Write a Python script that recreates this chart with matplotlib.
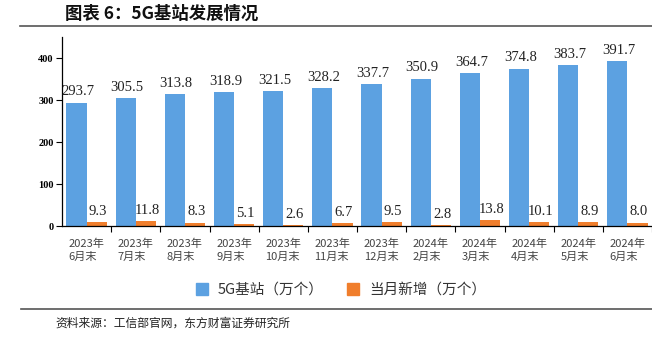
import numpy as np
import matplotlib
matplotlib.use("Agg")
import matplotlib.pyplot as plt
from matplotlib.patches import Patch
from matplotlib.lines import Line2D

plt.rcParams['font.family'] = ['Noto Sans CJK SC', 'DejaVu Sans']

months = ['2023年\n6月末', '2023年\n7月末', '2023年\n8月末', '2023年\n9月末',
          '2023年\n10月末', '2023年\n11月末', '2023年\n12月末', '2024年\n2月末',
          '2024年\n3月末', '2024年\n4月末', '2024年\n5月末', '2024年\n6月末']
stations = [293.7, 305.5, 313.8, 318.9, 321.5, 328.2, 337.7, 350.9, 364.7, 374.8, 383.7, 391.7]
monthly_new = [9.3, 11.8, 8.3, 5.1, 2.6, 6.7, 9.5, 2.8, 13.8, 10.1, 8.9, 8.0]

BLUE = '#5CA1E1'
ORANGE = '#F07E2C'
W, H = 652, 343

fig = plt.figure(figsize=(W / 100, H / 100), dpi=100)
ax = fig.add_axes([62 / W, 1 - 226 / H, 590 / W, 189 / H])

x = np.arange(len(months))
bw = 0.41
b1 = ax.bar(x - bw / 2, stations, bw, color=BLUE, label='5G基站（万个）')
b2 = ax.bar(x + bw / 2, monthly_new, bw, color=ORANGE, label='当月新增（万个）')

for bars, vals in ((b1, stations), (b2, monthly_new)):
    for r, v in zip(bars, vals):
        ax.annotate(f'{v:.1f}', (r.get_x() + r.get_width() / 2 + 0.03, v),
                    xytext=(0, 3), textcoords='offset points',
                    ha='center', va='bottom', fontsize=10.5,
                    family='Liberation Serif', color='#222222')

ax.set_ylim(0, 450)
ax.set_xlim(-0.5, -0.5 + 590 / 49.5)
ax.set_yticks([0, 100, 200, 300, 400])
for lab in ax.get_yticklabels():
    lab.set_family('Liberation Serif')
    lab.set_fontweight('bold')
    lab.set_fontsize(7.5)

ax.set_xticks(x)
ax.set_xticklabels(months, fontsize=8, multialignment='left', color='#444444',
                   linespacing=1.35)
ax.tick_params(axis='x', which='major', length=0, pad=9)
ax.set_xticks(np.arange(len(months)) + 0.5, minor=True)
ax.tick_params(axis='x', which='minor', length=4, width=0.8, direction='out')
ax.tick_params(axis='y', length=4, width=0.8, direction='out', pad=2)

for side in ('top', 'right'):
    ax.spines[side].set_visible(False)
ax.spines['left'].set_linewidth(0.9)
ax.spines['bottom'].set_linewidth(0.9)

handles = [Patch(color=BLUE, label='5G基站（万个）'),
           Patch(color=ORANGE, label='当月新增（万个）')]
fig.legend(handles=handles, loc='center', bbox_to_anchor=(341 / W, 1 - 290 / H),
           ncol=2, frameon=False, fontsize=10.5, handlelength=0.8, handleheight=0.8,
           columnspacing=1.6, handletextpad=0.7, labelcolor='#333333')

# title, rules and source note
fig.text(65 / W, 1 - 14 / H, '图表 6：5G基站发展情况', fontsize=12.5, fontweight='bold',
         va='center', ha='left', color='#111111')
fig.add_artist(Line2D([20 / W, 1], [1 - 26 / H] * 2, color='#555555', lw=1.2))
fig.add_artist(Line2D([21 / W, 1], [1 - 308.5 / H] * 2, color='#555555', lw=1.2))
fig.text(55 / W, 1 - 323 / H, '资料来源：工信部官网，东方财富证券研究所', fontsize=8.5,
         va='center', ha='left', color='#222222')

fig.savefig('out.png', dpi=100)
